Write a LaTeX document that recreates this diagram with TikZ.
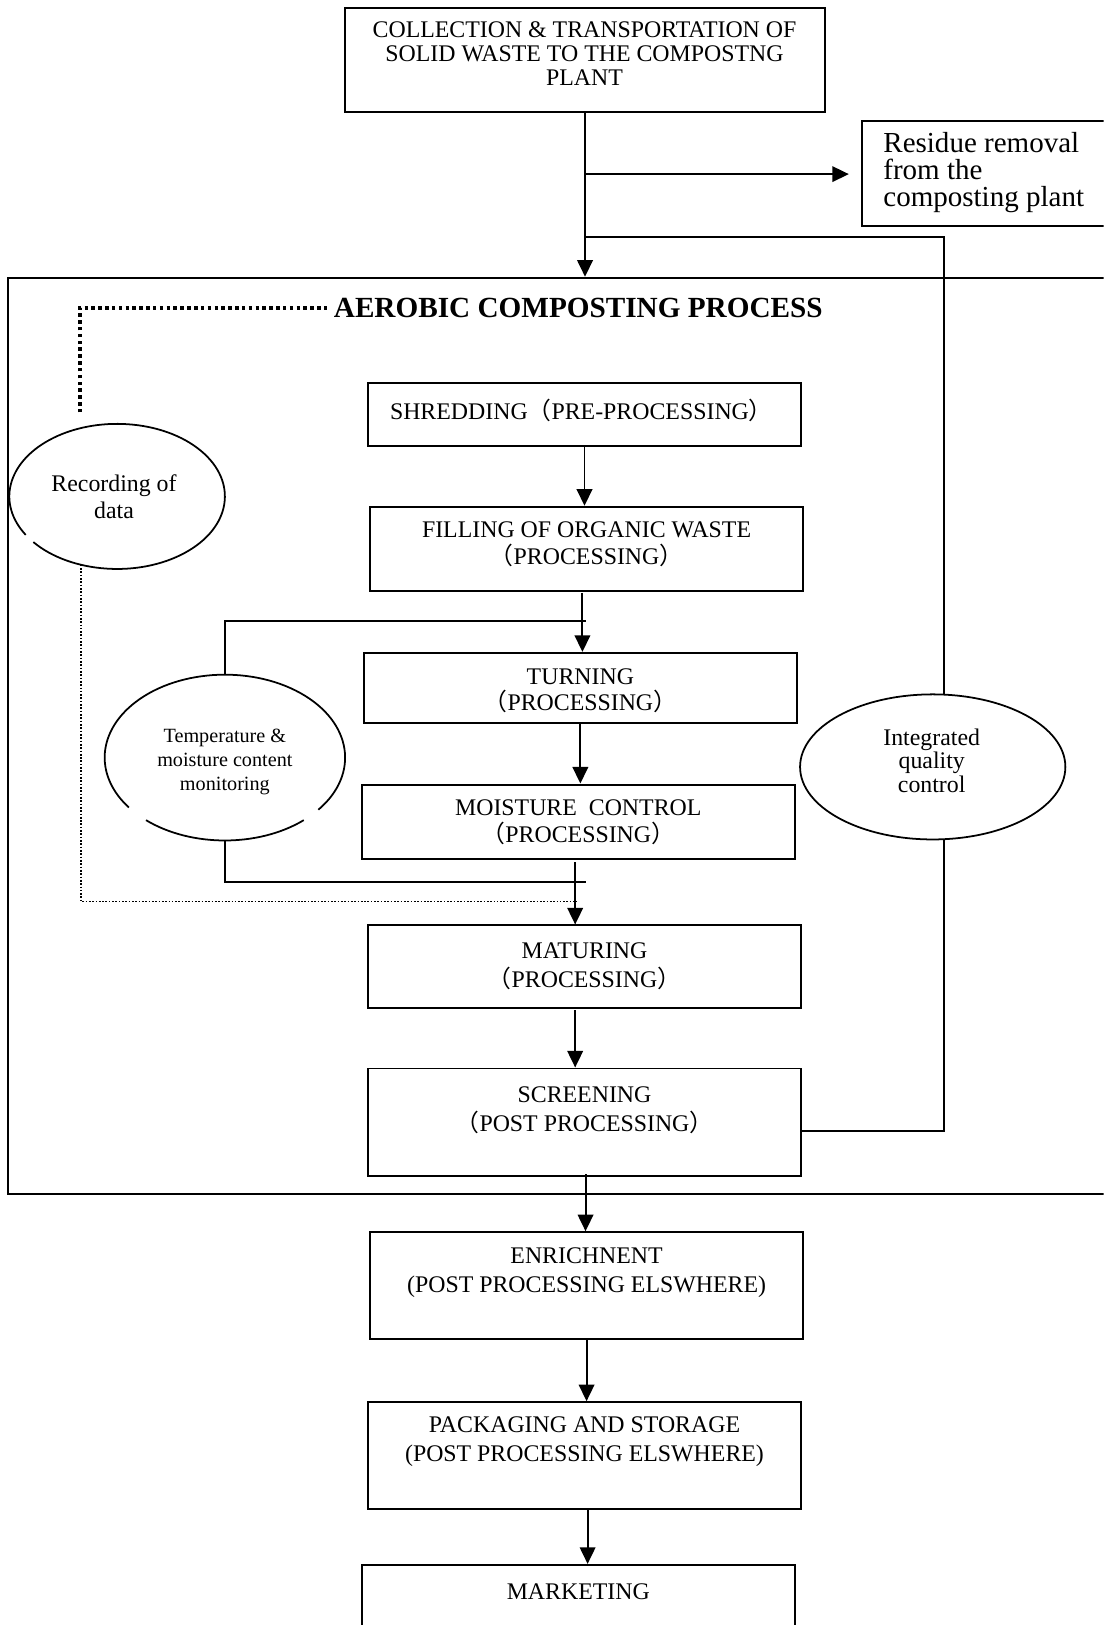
\documentclass[tikz,border=0pt]{standalone}
\usepackage{fontspec}
\setmainfont{Liberation Serif}
\newfontfamily\cjkfont{Noto Sans CJK SC}
\usetikzlibrary{arrows.meta,shapes.geometric}
\newcommand{\LPar}{{\cjkfont （}}
\newcommand{\RPar}{{\cjkfont ）}}
\begin{document}
\begin{tikzpicture}[x=0.5pt,y=-0.5pt,
  lw/.style={line width=0.95pt},
  box/.style n args={2}{draw,lw,rectangle,inner sep=0pt,minimum width=#1*0.5pt,minimum height=#2*0.5pt},
  oval/.style n args={2}{ellipse,inner sep=0pt,minimum width=#1*0.5pt,minimum height=#2*0.5pt},
  txt/.style={align=center,inner sep=0pt,font=\fontsize{11.5pt}{13pt}\selectfont},
  txtb/.style={align=center,inner sep=0pt,font=\fontsize{11.5pt}{14pt}\selectfont},
  arr/.style={lw,-{Triangle[width=7.5pt,length=8pt]}},
  con/.style={lw},
  ell/.style={line width=0.85pt},
  thindot/.style={line width=0.7pt,dash pattern=on 0.8pt off 0.8pt},
  thickdot/.style={line width=1.7pt,dash pattern=on 1.7pt off 1.6pt}]
\useasboundingbox (0,0) rectangle (1065,1568);
\clip (0,0) rectangle (1065,1568);

% boxes
\node[box={463}{100}] (top) at (564.5,58) {};
\node[txt,font=\fontsize{11.5pt}{11.5pt}\selectfont] (topT) at (564,52) {COLLECTION \& TRANSPORTATION OF\\SOLID WASTE TO THE COMPOSTNG\\PLANT};
\node[box={300}{101}] (res) at (982,167.5) {};
\node[align=left,inner sep=0pt,anchor=west,font=\fontsize{14pt}{13.25pt}\selectfont] (resT) at (852,166.5) {Residue removal\\from the\\composting plant};
\node[box={1192}{884}] (aer) at (604,710) {};
\node[inner sep=0pt,font=\fontsize{14.1pt}{14pt}\selectfont\bfseries] (title) at (558,297) {AEROBIC COMPOSTING PROCESS};

\node[box={418}{60}] (shred) at (564,400) {};
\node[txt] (shredT) at (561,396) {SHREDDING\LPar PRE-PROCESSING\RPar};
\node[box={418}{81}] (fill) at (566,529.5) {};
\node[txt] (fillT) at (566,525) {FILLING OF ORGANIC WASTE\\\LPar PROCESSING\RPar};
\node[box={418}{68}] (turn) at (560,664) {};
\node[txt] (turnT) at (560,666.5) {TURNING\\\LPar PROCESSING\RPar};
\node[box={418}{72}] (moist) at (558,793) {};
\node[txt] (moistT) at (558,793) {MOISTURE\ \ CONTROL\\\LPar PROCESSING\RPar};
\node[box={418}{80}] (mat) at (564,933) {};
\node[txtb] (matT) at (564,932) {MATURING\\\LPar PROCESSING\RPar};
\node[box={418}{104}] (screen) at (564,1083) {};
\node[txtb] (screenT) at (564,1071) {SCREENING\\\LPar POST PROCESSING\RPar};
\node[box={418}{103}] (enrich) at (566,1240.5) {};
\node[txtb] (enrichT) at (566,1228) {ENRICHNENT\\(POST PROCESSING ELSWHERE)};
\node[box={418}{103}] (pack) at (564,1404.5) {};
\node[txtb] (packT) at (564,1391.5) {PACKAGING AND STORAGE\\(POST PROCESSING ELSWHERE)};
\node[box={418}{110}] (market) at (558,1565) {};
\node[txt] (marketT) at (558,1536) {MARKETING};

% ellipses
\node[oval={208}{140}] (rec) at (113,479) {};
\draw[ell] ([shift={(219:52pt and 35pt)}]rec.center) arc[start angle=219,end angle=572,x radius=52pt,y radius=35pt];
\node[txt] (recT) at (110,479) {Recording of\\data};

\node[oval={232}{160}] (temp) at (217,731) {};
\draw[ell] ([shift={(321:58pt and 40pt)}]temp.center) arc[start angle=321,end angle=577,x radius=58pt,y radius=40pt];
\draw[ell] ([shift={(229:58pt and 40pt)}]temp.center) arc[start angle=229,end angle=311,x radius=58pt,y radius=40pt];
\node[align=center,inner sep=0pt,font=\fontsize{9.75pt}{11.5pt}\selectfont] (tempT) at (217,735) {Temperature \&\\moisture content\\monitoring};

\node[oval={256}{140},draw,ell] (qc) at (900,740) {};
\node[align=center,inner sep=0pt,font=\fontsize{11.5pt}{11.5pt}\selectfont] (qcT) at (899,734) {Integrated\\quality\\control};

% coordinates
\coordinate (b1) at (565,168);
\coordinate (b2) at (565,229);
\coordinate (qtop) at (911,670);
\coordinate (qbot) at (911,810);
\coordinate (v1) at (562,572);
\coordinate (h1) at (565,599);
\coordinate (v2) at (555,832);
\coordinate (h2) at (565,851);
\coordinate (d1) at (78,545);
\coordinate (d2) at (557,870);
\coordinate (d3) at (77,398);
\coordinate (v3) at (555,975);
\coordinate (v4) at (565,1133);
\coordinate (v5) at (567,1456);

% connectors
\draw[arr] (top.south) -- (top.south |- aer.north);
\draw[arr,shorten >=6pt] (b1) -- (b1 -| res.west);
\draw[con] (b2) -| (qtop);
\draw[con] (qbot) |- ([yshift=-4pt]screen.east);
\draw[arr] (shred.south) -- (shred.south |- fill.north);
\draw[arr] (v1) -- (v1 |- turn.north);
\draw[con] (temp.north) |- (h1);
\draw[arr] (turn.south) -- (turn.south |- moist.north);
\draw[arr] (v2) -- (v2 |- mat.north);
\draw[con] (temp.south) |- (h2);
\draw[thindot] (d1) |- (d2);
\draw[thickdot,shorten >=3pt] (d3) |- (title.west);
\draw[arr] (v3) -- (v3 |- screen.north);
\draw[arr] (v4) -- (v4 |- enrich.north);
\draw[arr] (enrich.south) -- (enrich.south |- pack.north);
\draw[arr] (v5) -- (v5 |- market.north);
\end{tikzpicture}
\end{document}
